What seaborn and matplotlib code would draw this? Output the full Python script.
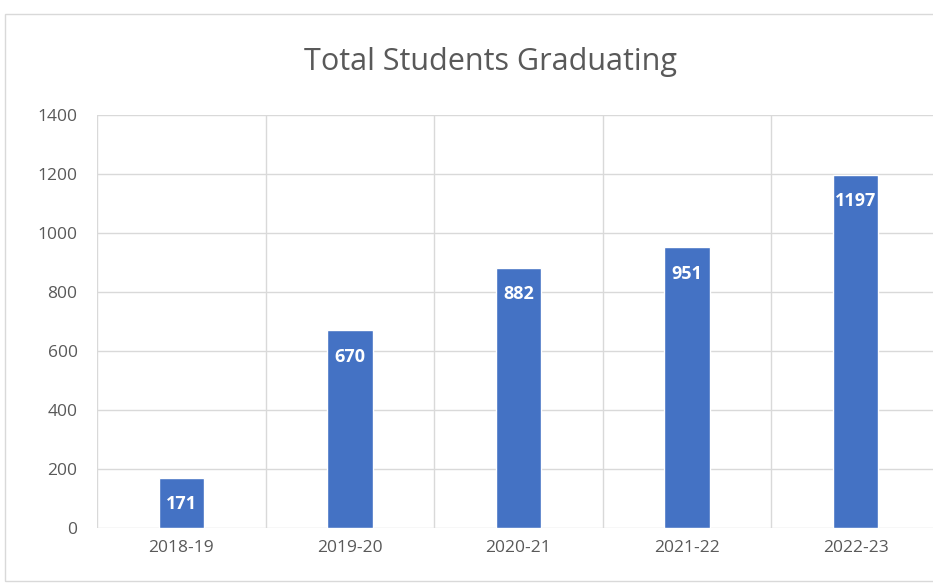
import matplotlib.pyplot as plt
import seaborn as sns
import pandas as pd
from matplotlib.patches import Rectangle

years = ['2018-19', '2019-20', '2020-21', '2021-22', '2022-23']
graduates = [171, 670, 882, 951, 1197]
y_ticks = [0, 200, 400, 600, 800, 1000, 1200, 1400]

df = pd.DataFrame({'year': years, 'graduates': graduates})

sns.set_style('white')
plt.rcParams['font.family'] = ['Open Sans', 'DejaVu Sans']

fig = plt.figure(figsize=(9.33, 5.83), dpi=100)
# chart frame (cut off at the right edge like the screenshot)
fig.patches.append(Rectangle((5 / 933, 0.004), 1.05, 1 - 14 / 583 - 0.004,
                             transform=fig.transFigure, fill=False,
                             edgecolor='#D9D9D9', linewidth=1.0))
ax = fig.add_axes([97 / 933, 1 - 528 / 583, 843 / 933, 413 / 583])

sns.barplot(data=df, x='year', y='graduates', color='#4472C4',
            saturation=1, width=0.27, ax=ax)

ax.set_ylim(0, 1400)
ax.set_xlim(-0.5, len(years) - 0.5)
ax.set_yticks(y_ticks)
ax.set_xticks(range(len(years)))
ax.set_xticklabels(years)

# gridlines: horizontal at ticks, vertical at category boundaries
for y in y_ticks:
    ax.axhline(y, color='#D9D9D9', linewidth=1, zorder=0)
for i in range(len(years) + 1):
    ax.axvline(i - 0.5, color='#D9D9D9', linewidth=1, zorder=0)

for s in ax.spines.values():
    s.set_visible(False)

ax.tick_params(axis='both', length=0, labelsize=12.5, labelcolor='#595959')
ax.tick_params(axis='y', pad=14)
ax.tick_params(axis='x', pad=9)
ax.set_xlabel('')
ax.set_ylabel('')

# value labels inside the top of each bar
for i, v in enumerate(graduates):
    ax.annotate(str(v), (i, v), xytext=(0, -19), textcoords='offset points',
                ha='center', va='center', color='white', fontsize=13,
                fontweight='bold')

fig.text(490 / 933, 1 - 62 / 583, 'Total Students Graduating', ha='center',
         va='center', fontsize=22, color='#595959')

fig.savefig('out.png', dpi=100)
